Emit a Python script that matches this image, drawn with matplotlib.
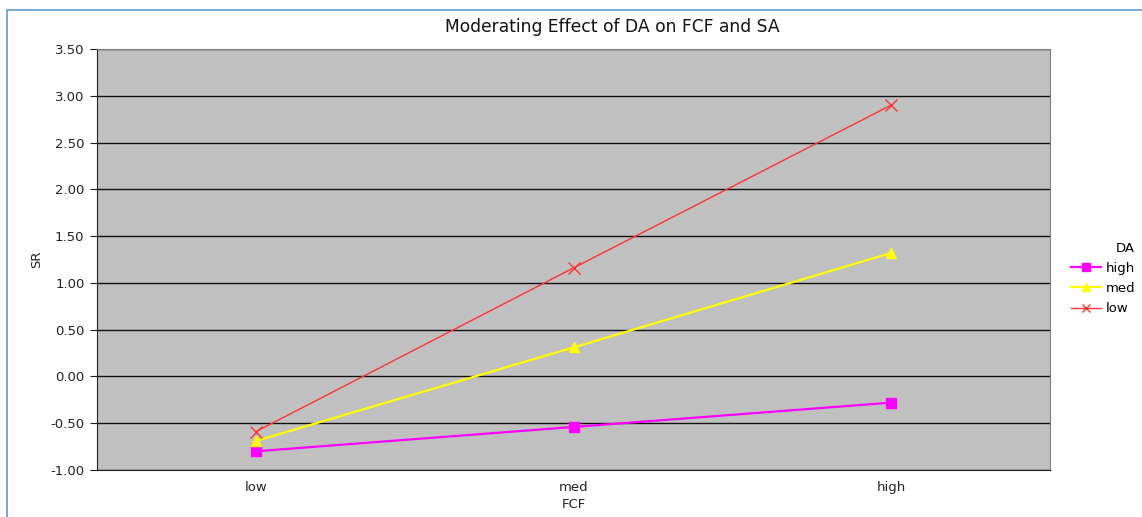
import matplotlib
matplotlib.use("Agg")
import matplotlib.pyplot as plt
from matplotlib.patches import Rectangle

categories = ["low", "med", "high"]
high_vals = [-0.80, -0.54, -0.28]
med_vals = [-0.69, 0.31, 1.32]
low_vals = [-0.59, 1.16, 2.90]
yticks = [-1.0, -0.5, 0.0, 0.5, 1.0, 1.5, 2.0, 2.5, 3.0, 3.5]

fig = plt.figure(figsize=(11.42, 5.17), dpi=100)
plt.rcParams['font.family'] = ['DejaVu Sans']
fig.patches.append(Rectangle((7/1142, -0.1), 2.0, 1 - 10/517 + 0.1, transform=fig.transFigure,
                             fill=False, edgecolor='#5b9bd5', linewidth=1.2))
ax = fig.add_axes([97/1142, 1 - 470/517, (1050 - 97)/1142, (470 - 49)/517])
ax.set_facecolor('#c0c0c0')
x = list(range(len(categories)))
ax.plot(x, high_vals, color='#ff00ff', marker='s', markersize=6.5, linewidth=1.6, label='high')
ax.plot(x, med_vals, color='#ffff00', marker='^', markersize=6.5, linewidth=1.6, label='med')
ax.plot(x, low_vals, color='#ff3333', marker='x', markersize=8, linewidth=1.0, markeredgewidth=1.0, label='low')
ax.set_xlim(-0.5, 2.5)
ax.set_ylim(-1.0, 3.5)
ax.set_yticks(yticks)
ax.set_yticklabels([f"{v:.2f}" for v in yticks], fontsize=9.5, color='#222222')
ax.set_xticks(x)
ax.set_xticklabels(categories, fontsize=9.5, color='#222222')
ax.tick_params(axis='x', length=0, pad=8)
ax.tick_params(axis='y', length=5, direction='out', color='#222222', pad=4)
ax.grid(axis='y', color='#111111', linewidth=1.0)
ax.set_axisbelow(True)
for s in ['top', 'right']:
    ax.spines[s].set_color('#808080')
for s in ['left', 'bottom']:
    ax.spines[s].set_color('#222222')
ax.set_xlabel('FCF', fontsize=9.5, labelpad=3, color='#222222')
ax.set_ylabel('SR', fontsize=9.5, labelpad=5, color='#222222')
fig.text(612/1142, 1 - 27/517, 'Moderating Effect of DA on FCF and SA',
         ha='center', va='center', fontsize=12.3, color='#111111')
leg = ax.legend(title='DA', loc='center left', bbox_to_anchor=(1.022, 0.455), frameon=False,
                fontsize=9.5, title_fontsize=9.5, handlelength=2.3, handletextpad=0.3,
                labelspacing=0.55, borderaxespad=0.0, borderpad=0.0, markerscale=0.8)
leg._legend_box.align = 'right'
fig.savefig('out.png', dpi=100)
